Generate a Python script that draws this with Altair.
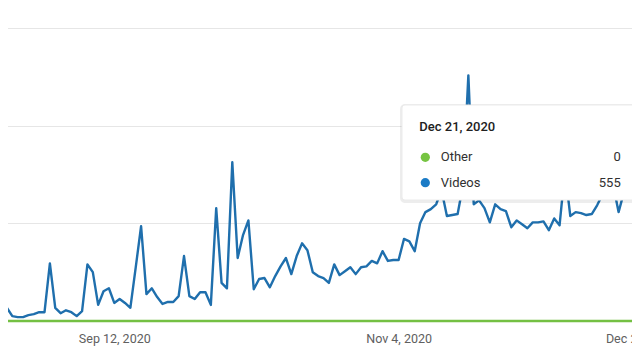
import altair as alt
import pandas as pd

# Daily views, Aug 22 2020 .. Dec 21 2020
videos = [20, 27, 10, 8, 8, 12, 14, 18, 18, 118,
          27, 16, 22, 18, 10, 20, 116, 100, 33, 61,
          67, 37, 45, 37, 27, 110, 194, 55, 67, 49,
          35, 39, 39, 51, 133, 51, 45, 59, 59, 33,
          231, 78, 67, 325, 129, 176, 206, 65, 86, 88,
          69, 92, 112, 129, 96, 133, 159, 145, 100, 92,
          88, 78, 116, 94, 102, 110, 96, 110, 112, 123,
          118, 143, 123, 125, 125, 168, 163, 143, 200, 223,
          229, 239, 268, 215, 217, 219, 278, 503, 239, 247,
          231, 202, 239, 229, 225, 192, 206, 198, 190, 202,
          202, 204, 186, 210, 196, 308, 215, 223, 221, 217,
          219, 237, 259, 268, 278, 223, 264, 268, 268, 268,
          300, 555]
other = [0] * len(videos)
dates = pd.date_range("2020-08-22", periods=len(videos), freq="D")
date_str = [d.strftime("%Y-%m-%d") for d in dates]

series_names = ["Videos", "Other"]
series_colors = ["#1f6fad", "#74c043"]
dot_colors = {"Other": "#76c442", "Videos": "#1b7bc6"}

tick_dates = [(2020, 9, 12), (2020, 11, 4), (2020, 12, 26)]
y_grid = [0, 200, 400, 600]

df = pd.DataFrame({"date": date_str, "Videos": videos, "Other": other})
long = df.melt("date", var_name="series", value_name="views")

x_dom = [alt.DateTime(year=2020, month=8, date=22, utc=True),
         alt.DateTime(year=2020, month=12, date=26, utc=True)]

lines = alt.Chart(long).mark_line(strokeWidth=2.4, strokeJoin="round").encode(
    x=alt.X("date:T",
            scale=alt.Scale(type="utc", domain=x_dom, range=[-6.4, 669.6]),
            axis=alt.Axis(values=[alt.DateTime(year=y, month=m, date=d, utc=True) for y, m, d in tick_dates],
                          format="%b %-d, %Y", labelFlush=True, grid=False, domain=False,
                          ticks=False, tickSize=0, labelPadding=21, labelBaseline="alphabetic",
                          labelFont="Roboto", labelFontSize=12.5, labelColor="#606060",
                          labelOverlap=False, title=None)),
    y=alt.Y("views:Q",
            scale=alt.Scale(domain=[0, 600], nice=False, zero=True),
            axis=alt.Axis(values=y_grid, labels=False, ticks=False, domain=False, title=None,
                          gridColor="#e6e6e6", gridWidth=1)),
    color=alt.Color("series:N", scale=alt.Scale(domain=series_names, range=series_colors), legend=None),
    order=alt.Order("date:T"),
)

# Tooltip overlay (content taken from the last data point)
last = pd.DataFrame({
    "date_label": [dates[-1].strftime("%b %-d, %Y")],
    "other_v": [str(other[-1])],
    "videos_v": [str(videos[-1])],
    "other_n": ["Other"],
    "videos_n": ["Videos"],
})
tb = alt.Chart(last)
shadow = tb.mark_rect(color="#000000", opacity=0.07, cornerRadius=5).encode(
    x=alt.value(392), x2=alt.value(631), y=alt.value(76), y2=alt.value(175))
box = tb.mark_rect(color="#ffffff", stroke="#ebebeb", strokeWidth=1, cornerRadius=3).encode(
    x=alt.value(394), x2=alt.value(629), y=alt.value(77), y2=alt.value(172))
t_date = tb.mark_text(align="left", baseline="middle", font="Roboto", fontSize=13,
                      fontWeight=500, color="#212121").encode(
    x=alt.value(411.3), y=alt.value(98.7), text="date_label:N")
d_other = tb.mark_circle(size=85, opacity=1, color=dot_colors["Other"]).encode(
    x=alt.value(417.3), y=alt.value(129.3))
d_videos = tb.mark_circle(size=85, opacity=1, color=dot_colors["Videos"]).encode(
    x=alt.value(417.3), y=alt.value(154.7))
n_other = tb.mark_text(align="left", baseline="middle", font="Roboto", fontSize=13, color="#303030").encode(
    x=alt.value(432.7), y=alt.value(129.3), text="other_n:N")
n_videos = tb.mark_text(align="left", baseline="middle", font="Roboto", fontSize=13, color="#303030").encode(
    x=alt.value(432.7), y=alt.value(154.7), text="videos_n:N")
v_other = tb.mark_text(align="right", baseline="middle", font="Roboto", fontSize=13, color="#303030").encode(
    x=alt.value(612.7), y=alt.value(129.3), text="other_v:N")
v_videos = tb.mark_text(align="right", baseline="middle", font="Roboto", fontSize=13, color="#303030").encode(
    x=alt.value(612.7), y=alt.value(154.7), text="videos_v:N")

chart = alt.layer(
    lines, shadow, box, t_date, d_other, d_videos, n_other, n_videos, v_other, v_videos
).properties(
    width=624, height=293,
    autosize=alt.AutoSizeParams(type="none"),
    padding={"left": 0, "right": 0, "top": 20, "bottom": 32},
    background="#ffffff",
).configure_view(stroke=None)

chart.save("out.html", embed_options={"renderer": "svg", "actions": False})
